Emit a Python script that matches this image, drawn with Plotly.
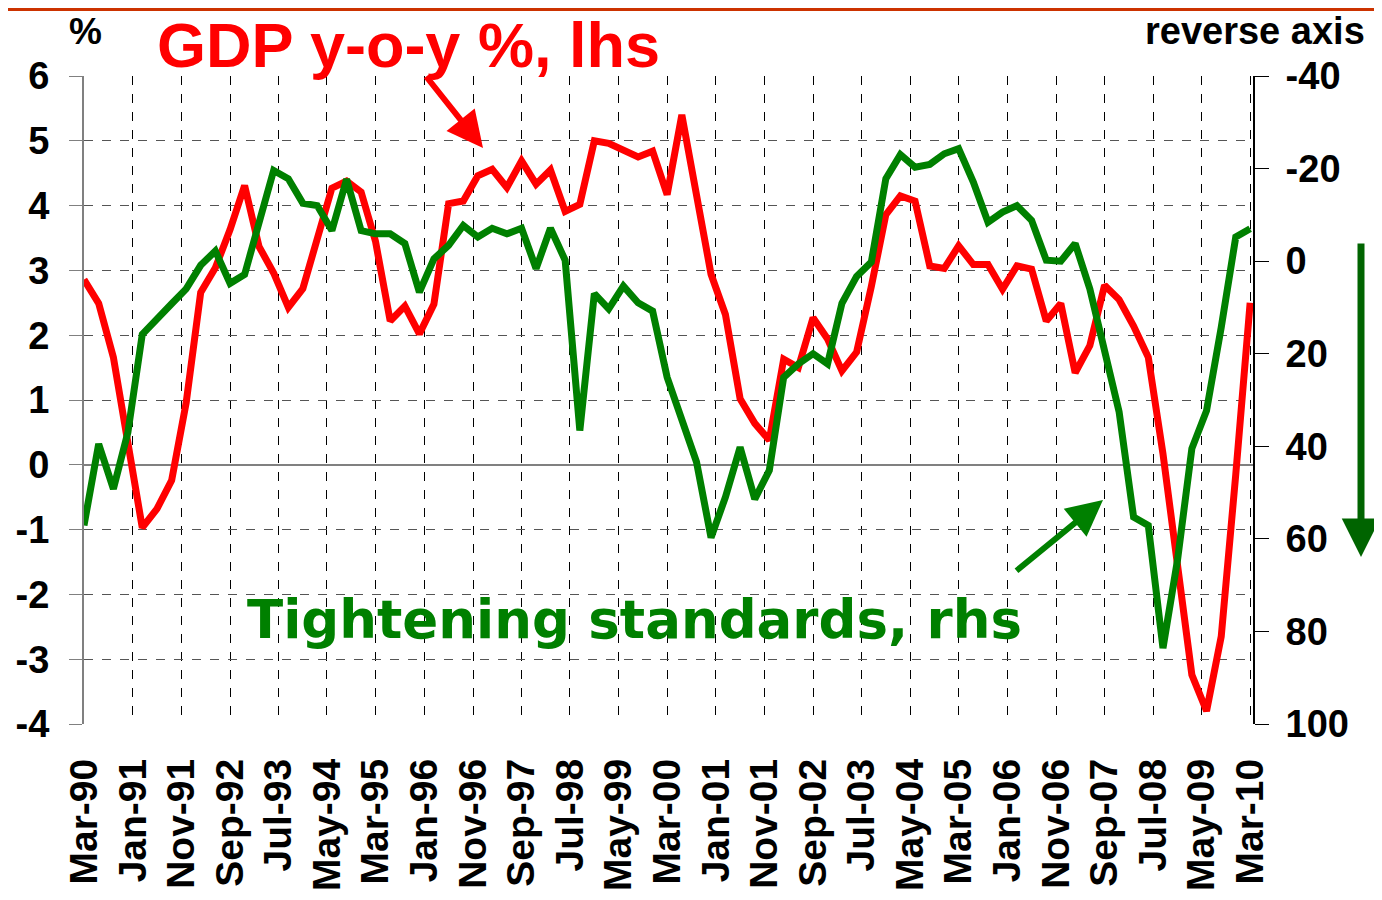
import pandas as pd
import plotly.graph_objects as go

# ---- data (quarterly, Mar-90 .. Mar-10) ----
quarters = pd.date_range("1990-03-01", "2010-03-01", freq="3MS")

gdp_yoy = [2.86, 2.49, 1.66, 0.35, -0.97, -0.68, -0.24, 0.96, 2.66, 3.04,
           3.63, 4.31, 3.37, 2.96, 2.43, 2.72, 3.50, 4.27, 4.38, 4.21,
           3.45, 2.22, 2.45, 2.02, 2.48, 4.03, 4.07, 4.46, 4.56, 4.28,
           4.69, 4.33, 4.55, 3.91, 4.02, 5.00, 4.96, 4.85, 4.75, 4.84,
           4.17, 5.40, 4.14, 2.94, 2.32, 1.02, 0.64, 0.38, 1.63, 1.50,
           2.27, 1.94, 1.45, 1.74, 2.75, 3.86, 4.15, 4.07, 3.07, 3.03,
           3.38, 3.09, 3.09, 2.71, 3.07, 3.02, 2.22, 2.49, 1.42, 1.84,
           2.77, 2.55, 2.14, 1.66, 0.17, -1.47, -3.24, -3.80, -2.65, -0.15,
           2.50]

tightening = [57.1, 39.5, 49.2, 37.0, 15.8, 12.3, 9.2, 6.0, 0.9, -2.2,
              4.8, 2.9, -8.1, -19.6, -17.8, -12.5, -12.0, -6.6, -17.7, -6.6,
              -5.9, -5.9, -3.8, 6.7, -0.5, -3.4, -7.7, -5.2, -7.1, -5.9,
              -7.1, 1.6, -7.1, -0.2, 36.6, 7.0, 10.3, 5.4, 9.0, 10.8,
              25.1, 34.4, 43.4, 59.7, 51.0, 40.2, 51.4, 45.2, 25.1, 22.2,
              20.0, 22.2, 9.1, 3.3, 0.2, -17.8, -23.0, -20.3, -20.9, -23.2,
              -24.3, -17.1, -8.4, -10.6, -12.0, -8.8, -0.2, 0.0, -3.8, 6.0,
              18.6, 32.5, 55.3, 57.1, 83.6, 64.6, 40.5, 32.3, 14.3, -5.2,
              -7.0]

tick_dates = pd.date_range("1990-03-01", periods=25, freq="10MS")
tick_labels = ["Mar-90", "Jan-91", "Nov-91", "Sep-92", "Jul-93", "May-94",
               "Mar-95", "Jan-96", "Nov-96", "Sep-97", "Jul-98", "May-99",
               "Mar-00", "Jan-01", "Nov-01", "Sep-02", "Jul-03", "May-04",
               "Mar-05", "Jan-06", "Nov-06", "Sep-07", "Jul-08", "May-09",
               "Mar-10"]

lhs_ticks = [6, 5, 4, 3, 2, 1, 0, -1, -2, -3, -4]
lhs_labels = ["6", "5", "4", "3", "2", "1", "0", "-1", "-2", "-3", "-4"]
rhs_ticks = [-40, -20, 0, 20, 40, 60, 80, 100]
rhs_labels = ["-40", "-20", "0", "20", "40", "60", "80", "100"]

lhs_range = [-4, 6]
rhs_range = [100, -40]

# ---- geometry (page pixels; the page body has an 8px margin) ----
OFF = 8
PAGE_W, PAGE_H = 1382, 900
W, H = PAGE_W - 2 * OFF, PAGE_H - 2 * OFF
L, R, T, B = 84, 1253, 76, 724   # plot area on the page


def px(x):
    return (x - L) / (R - L)


def py(y):
    return (B - y) / (B - T)


FONT = "Liberation Sans"

fig = go.Figure()
fig.add_trace(go.Scatter(x=quarters, y=gdp_yoy, mode="lines",
                         line=dict(color="#FF0000", width=7),
                         name="GDP y-o-y %", yaxis="y"))
fig.add_trace(go.Scatter(x=quarters, y=tightening, mode="lines",
                         line=dict(color="#008000", width=7),
                         name="Tightening standards", yaxis="y2"))

fig.update_layout(
    width=W, height=H,
    margin=dict(l=L - OFF, r=(OFF + W) - R, t=T - OFF, b=(OFF + H) - B,
                pad=0, autoexpand=False),
    plot_bgcolor="white", paper_bgcolor="white",
    showlegend=False,
    xaxis=dict(
        type="date", automargin=False,
        range=["1990-03-01", "2010-03-19"],
        tickvals=tick_dates, ticktext=tick_labels,
        tickangle=-90,
        tickfont=dict(family=FONT, size=39, color="black", weight="bold"),
        ticks="", ticklabelstandoff=26,
        showgrid=True, gridcolor="#000000", gridwidth=1, griddash="dash",
        showline=False, zeroline=False,
    ),
    yaxis=dict(
        range=lhs_range, automargin=False,
        tickvals=lhs_ticks, ticktext=lhs_labels,
        tickfont=dict(family=FONT, size=38, color="black", weight="bold"),
        ticks="outside", ticklen=13, tickcolor="#808080", tickwidth=1,
        ticklabelstandoff=12,
        showgrid=True, gridcolor="#555555", gridwidth=1, griddash="dash",
        zeroline=True, zerolinecolor="#808080", zerolinewidth=2,
        showline=True, linecolor="#808080", linewidth=2,
    ),
    yaxis2=dict(
        range=rhs_range, autorange=False, automargin=False,
        tickvals=rhs_ticks, ticktext=rhs_labels,
        overlaying="y", side="right", anchor="x",
        tickfont=dict(family=FONT, size=38, color="black", weight="bold"),
        ticks="outside", ticklen=14, tickcolor="black", tickwidth=1,
        ticklabelstandoff=9,
        showgrid=False, zeroline=False,
        showline=True, linecolor="black", linewidth=2,
    ),
)

annotations = [
    dict(text="%", x=px(85), y=py(31), xanchor="center", yanchor="middle",
         font=dict(family=FONT, size=37, color="black", weight="bold")),
    dict(text="GDP y-o-y %, lhs", x=px(155), y=py(45), xanchor="left", yanchor="middle",
         font=dict(family=FONT, size=63, color="#FF0000", weight="bold")),
    dict(text="reverse axis", x=px(1367), y=py(31), xanchor="right", yanchor="middle",
         font=dict(family=FONT, size=38, color="black", weight="bold")),
    dict(text="Tightening standards, rhs", x=px(245), y=py(619), xanchor="left",
         yanchor="middle",
         font=dict(family="DejaVu Sans", size=53, color="#008000", weight="bold")),
]
for a in annotations:
    a.update(xref="paper", yref="paper", showarrow=False)

arrows = [
    dict(x=px(483), y=py(148), ax=-58, ay=-73, arrowcolor="#FF0000",
         arrowwidth=6, arrowhead=2, arrowsize=1.2),
    dict(x=px(1103), y=py(500), ax=-88, ay=72, arrowcolor="#008000",
         arrowwidth=6, arrowhead=2, arrowsize=1.2),
    dict(x=px(1361), y=py(557), ax=0, ay=-315, arrowcolor="#006400",
         arrowwidth=7, arrowhead=2, arrowsize=1.1),
]
for a in arrows:
    a.update(xref="paper", yref="paper", showarrow=True, text="")

fig.update_layout(annotations=annotations + arrows)

# thin rule along the top edge of the figure
fig.add_shape(type="line", xref="paper", yref="paper",
              x0=px(OFF), x1=px(OFF + W), y0=py(OFF + 1.5), y1=py(OFF + 1.5),
              line=dict(color="#CC3300", width=3))

fig.write_html("out.html")
